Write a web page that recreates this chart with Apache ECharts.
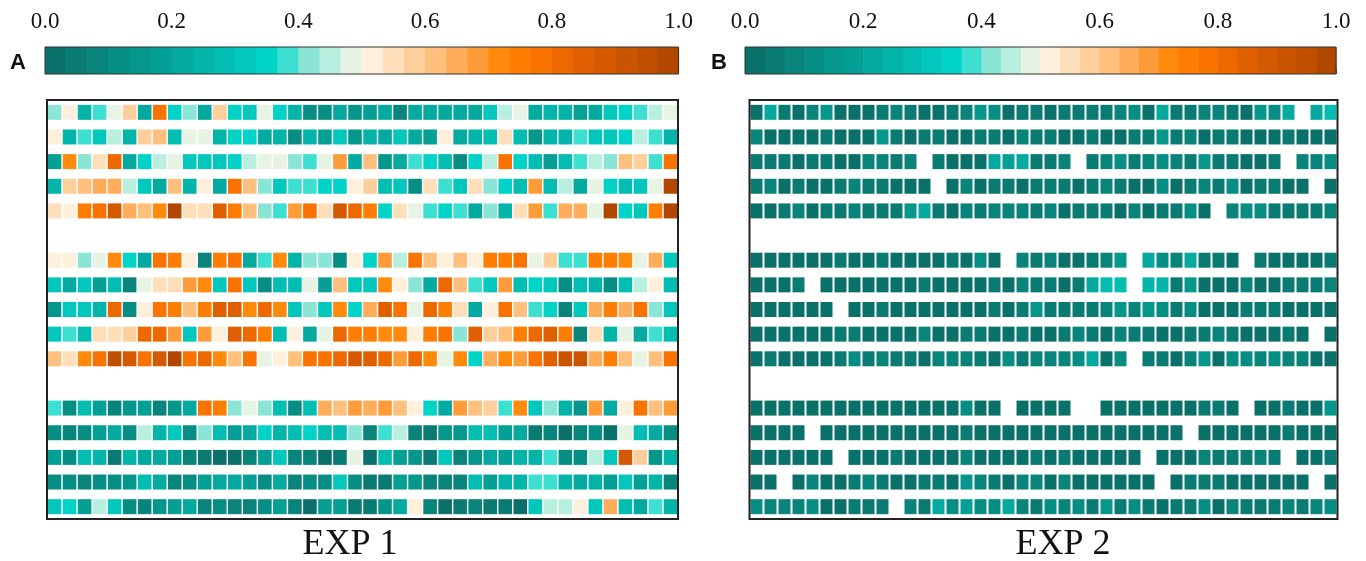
<!DOCTYPE html>
<html>
<head>
<meta charset="utf-8">
<script src="https://cdn.jsdelivr.net/npm/echarts@6/dist/echarts.min.js"></script>
<style>
  html, body { margin: 0; padding: 0; background: #fff; }
  #chart { width: 1366px; height: 561px; }
</style>
</head>
<body>
<div id="chart"></div>
<script>
// 30-step teal → cream → orange colour scale
const palette = [
  '#0a716a', '#097b72', '#08847b', '#078e84', '#06978c', '#05a095',
  '#04aa9f', '#03b4a9', '#02bdb2', '#01c7bc', '#00d3c7', '#3ddfd0',
  '#8ae5d6', '#b8efde', '#e7f4e3', '#fff0dc', '#ffdfb9', '#ffcf9b',
  '#ffc07e', '#ffad5b', '#ff9c3a', '#ff8a0c', '#ff7d00', '#fa7200',
  '#ee6800', '#e06000', '#d55900', '#ca5400', '#c04f00', '#b24800'
];
const colorbarTicks = [0, 0.2, 0.4, 0.6, 0.8, 1.0];
const columns = Array.from({ length: 42 }, (_, i) => String(i + 1));

// EXP 1 — three blocks of five rows, 42 columns each
const exp1Block1 = [
  [.42,.52,.25,.38,.48,.58,.22,.78,.35,.42,.22,.58,.35,.32,.48,.35,.25,.12,.12,.22,.15,.18,.22,.08,.22,.22,.22,.22,.22,.32,.45,.48,.22,.25,.25,.18,.22,.32,.35,.38,.45,.48],
  [.52,.25,.38,.32,.45,.25,.58,.62,.28,.48,.48,.25,.35,.35,.22,.25,.12,.25,.18,.32,.15,.25,.22,.32,.22,.18,.52,.22,.25,.28,.55,.28,.15,.25,.25,.38,.32,.32,.35,.45,.38,.25],
  [.18,.72,.42,.55,.82,.22,.35,.45,.48,.32,.32,.32,.35,.45,.48,.48,.42,.38,.48,.68,.22,.62,.15,.22,.38,.35,.28,.12,.35,.45,.78,.35,.28,.18,.28,.38,.45,.42,.62,.58,.38,.78],
  [.25,.58,.62,.65,.65,.45,.32,.22,.62,.25,.52,.22,.78,.62,.42,.32,.38,.38,.35,.35,.52,.58,.28,.32,.12,.55,.38,.32,.55,.42,.35,.28,.68,.28,.45,.22,.48,.35,.28,.32,.48,.98],
  [.55,.52,.75,.78,.88,.65,.62,.72,.98,.55,.55,.85,.75,.62,.42,.38,.68,.78,.55,.88,.82,.75,.35,.55,.48,.38,.35,.38,.22,.42,.25,.55,.68,.38,.65,.65,.48,.98,.35,.32,.75,.98]
];
const exp1Block2 = [
  [.52,.52,.42,.48,.72,.35,.22,.78,.75,.52,.08,.75,.78,.22,.38,.72,.25,.42,.42,.12,.52,.35,.68,.45,.78,.62,.52,.62,.52,.75,.75,.78,.48,.58,.38,.38,.75,.75,.72,.48,.65,.32],
  [.32,.22,.32,.18,.28,.08,.48,.55,.55,.68,.72,.32,.78,.32,.12,.28,.28,.48,.18,.62,.32,.32,.72,.52,.42,.22,.82,.62,.38,.32,.68,.28,.35,.32,.12,.28,.25,.12,.28,.45,.52,.28],
  [.15,.32,.32,.25,.82,.12,.52,.78,.75,.62,.75,.85,.85,.72,.82,.72,.32,.42,.32,.72,.35,.65,.85,.78,.48,.82,.75,.55,.22,.52,.78,.62,.38,.35,.08,.32,.65,.75,.65,.78,.42,.32],
  [.32,.38,.28,.55,.55,.58,.82,.82,.68,.32,.68,.52,.85,.82,.75,.28,.52,.22,.48,.82,.75,.75,.72,.72,.52,.75,.78,.42,.85,.58,.62,.75,.82,.85,.75,.08,.55,.25,.48,.22,.38,.28],
  [.62,.55,.72,.78,.95,.88,.78,.88,.98,.78,.82,.72,.62,.78,.48,.52,.62,.78,.78,.82,.88,.85,.82,.68,.82,.72,.48,.72,.35,.65,.72,.68,.78,.85,.92,.92,.65,.75,.62,.48,.62,.78]
];
const exp1Block3 = [
  [.38,.12,.28,.18,.08,.15,.18,.08,.15,.22,.78,.75,.42,.48,.42,.28,.12,.28,.65,.62,.68,.65,.68,.62,.52,.35,.22,.68,.62,.58,.38,.72,.32,.42,.25,.15,.68,.22,.52,.78,.62,.68],
  [.12,.08,.12,.18,.22,.12,.45,.25,.32,.12,.42,.28,.18,.22,.35,.25,.28,.35,.28,.28,.42,.08,.38,.45,.08,.05,.15,.15,.28,.28,.18,.22,.05,.08,.02,.08,.12,.02,.48,.28,.22,.12],
  [.18,.12,.28,.25,.05,.25,.22,.22,.18,.08,.05,.02,.02,.08,.18,.32,.08,.08,.02,.05,.48,.02,.28,.18,.15,.05,.32,.08,.15,.22,.18,.25,.25,.38,.12,.12,.45,.32,.88,.58,.15,.25],
  [.12,.12,.08,.12,.12,.15,.28,.22,.08,.12,.18,.22,.22,.18,.12,.22,.08,.12,.12,.32,.12,.05,.05,.18,.15,.08,.08,.08,.28,.18,.25,.25,.38,.38,.25,.22,.25,.18,.32,.18,.25,.08],
  [.32,.35,.18,.45,.32,.12,.08,.15,.18,.22,.08,.12,.08,.08,.12,.18,.08,.02,.18,.18,.05,.05,.15,.22,.52,.08,.02,.05,.08,.05,.05,.02,.32,.45,.45,.52,.32,.65,.28,.22,.38,.25]
];

// EXP 2 — same layout; null marks an empty cell
const exp2Block1 = [
  [.02,.22,.05,.02,.08,.15,.02,.02,.02,.05,.08,.05,.02,.02,.05,.08,.15,.12,.02,.05,.05,.02,.05,.05,.05,.05,.08,.12,.02,.22,.05,.05,.08,.08,.05,.02,.15,.12,.22,null,.22,.28],
  [.08,.02,.02,.02,.02,.05,.02,.02,.02,.15,.05,.02,.05,.05,.02,.02,.05,.05,.02,.08,.05,.05,.02,.02,.05,.02,.02,.05,.05,.15,.05,.08,.02,.05,.05,.02,.02,.02,.05,.02,.02,.02],
  [.05,.05,.05,.02,.05,.05,.02,.02,.08,.08,.05,.08,null,.05,.02,.02,.02,.22,.18,.22,.05,.05,.08,null,.05,.08,.12,.05,.08,.12,.08,.05,.15,.05,.05,.02,.02,.05,null,.08,.08,.12],
  [.05,.08,.02,.05,.02,.02,.05,.08,.05,.05,.02,.02,.02,null,.02,.08,.02,.05,.05,.02,.05,.05,.05,.02,.05,.08,.05,.02,.02,.12,.02,.05,.08,.05,.12,.02,.05,.05,.02,.02,null,.02],
  [.02,.02,.05,.08,.02,.05,.05,.08,.05,.05,.05,.15,.22,.05,.02,.08,.05,.08,.08,.08,.05,.08,.02,.05,.05,.05,.02,.08,.02,.05,.05,.12,.02,null,.08,.12,.12,.05,.05,.05,.05,.08]
];
const exp2Block2 = [
  [.02,.02,.02,.02,.02,.02,.05,.02,.02,.05,.02,.02,.02,.02,.05,.02,.12,.02,null,.08,.05,.08,.02,.02,.05,.08,.15,null,.22,.12,.08,.22,.05,.05,.02,null,.05,.02,.02,.02,.02,.05],
  [.02,.02,.02,.05,null,.02,.02,.02,.02,.02,.02,.02,.05,.02,.02,.02,.02,.05,.02,.08,.05,.05,.02,.05,.22,.28,.28,null,.25,.25,.05,.15,.02,.02,.02,.08,.02,.02,.05,.05,.05,.08],
  [.02,.02,.02,.02,.02,.02,null,.02,.02,.05,.02,.02,.02,.02,.02,.02,.02,.05,.02,.05,.15,.05,.05,.05,.05,.08,.15,.08,.15,.12,.05,.12,.02,.02,.02,.05,.05,.05,.02,.02,.02,.02],
  [.02,.02,.02,.02,.02,.02,.05,.05,.02,.02,.02,.02,.08,.02,.02,.05,.05,.02,.02,.05,.02,.02,.05,.08,.05,.02,.08,.05,.05,.02,.02,.05,.05,.08,.05,.02,.02,.02,.05,.02,null,.02],
  [.02,.05,.02,.02,.02,.02,.05,.12,.05,.08,.05,.05,.02,.08,.08,.08,.05,.02,.12,.05,.08,.08,.08,.12,.22,.02,.12,null,.05,.05,.02,.08,.15,.02,.12,.12,.08,.12,.08,.08,.02,.02]
];
const exp2Block3 = [
  [.02,.02,.02,.02,.02,.02,.02,.02,.02,.02,.02,.02,.02,.02,.02,.12,.02,.02,null,.02,.02,.02,.02,null,null,.02,.02,.02,.02,.02,.02,.02,.05,.05,.02,null,.02,.02,.05,.02,.02,.15],
  [.02,.02,.02,.02,null,.02,.02,.02,.02,.02,.02,.02,.02,.02,.02,.05,.02,.02,.02,.02,.02,.02,.02,.02,.02,.02,.02,.02,.02,.02,.02,null,.02,.02,.02,.02,.02,.02,.05,.02,.02,.02],
  [.02,.02,.02,.02,.02,.02,null,.02,.02,.02,.05,.02,.02,.02,.02,.08,.02,.02,.02,.02,.05,.02,.05,.02,.02,.02,.02,.02,null,.02,.02,.02,.08,.05,.05,.05,.08,.05,null,.02,.02,.05],
  [.02,.02,null,.02,.08,.02,.02,.05,.08,.05,.02,.02,.05,.05,.02,.15,.08,.05,.02,.08,.08,.02,.08,.02,.02,.02,.02,.02,.02,null,.02,.05,.05,.05,.02,.02,.02,.02,.02,.02,null,.02],
  [.12,.08,.08,.08,.12,.02,.02,.05,.05,.05,null,.08,.05,.22,.12,.18,.12,.12,.22,.08,.05,.12,.08,.12,.05,.15,.05,.12,.05,.02,.05,.05,.12,.02,.08,.05,.05,.05,.08,.05,.08,.12]
];

// Vertical slots: 5 rows, spacer, 5 rows, spacer, 5 rows
const rowSlots = Array.from({ length: 17 }, (_, i) => String(i));

function colorOf(v) {
  return palette[Math.min(palette.length - 1, Math.floor(v * palette.length))];
}

function cells(blocks) {
  const out = [];
  blocks.forEach((block, b) => {
    block.forEach((row, r) => {
      row.forEach((v, c) => {
        if (v !== null) out.push([c, b * 6 + r, v]);
      });
    });
  });
  return out;
}

const colorbarBins = palette.map((_, i) => [i / palette.length, (i + 1) / palette.length]);

const serif = 'Liberation Serif, DejaVu Serif, serif';

function colorbarAxis(gridIndex) {
  return {
    type: 'value', gridIndex, position: 'top', min: 0, max: 1, interval: 0.2,
    axisLine: { show: false },
    axisTick: { show: true, length: 5, lineStyle: { color: '#333', width: 1 } },
    splitLine: { show: false },
    axisLabel: {
      margin: 14, fontFamily: serif, fontSize: 23, color: '#111',
      formatter: v => v.toFixed(1)
    }
  };
}

function colorbarSeries(axisIndex) {
  return {
    type: 'custom', xAxisIndex: axisIndex, yAxisIndex: axisIndex,
    data: colorbarBins,
    renderItem: (params, api) => {
      const a = api.coord([api.value(0), 1]);
      const b = api.coord([api.value(1), 0]);
      return {
        type: 'rect',
        shape: { x: a[0], y: a[1], width: b[0] - a[0] + 0.6, height: b[1] - a[1] },
        style: { fill: palette[params.dataIndex] }
      };
    },
    silent: true
  };
}

function cellSeries(axisIndex, blocks, size) {
  return {
    type: 'scatter', xAxisIndex: axisIndex, yAxisIndex: axisIndex,
    symbol: 'rect', symbolSize: size,
    data: cells(blocks),
    itemStyle: { color: p => colorOf(p.value[2]), opacity: 1 },
    silent: true
  };
}

const heatX = gridIndex => ({
  type: 'category', gridIndex, data: columns,
  axisLine: { show: false }, axisTick: { show: false }, axisLabel: { show: false }, splitLine: { show: false }
});
const heatY = gridIndex => ({
  type: 'category', gridIndex, data: rowSlots, inverse: true,
  axisLine: { show: false }, axisTick: { show: false }, axisLabel: { show: false }, splitLine: { show: false }
});

const chart = echarts.init(document.getElementById('chart'), null, { renderer: 'canvas' });
chart.setOption({
  backgroundColor: '#fff',
  animation: false,
  grid: [
    { left: 45, top: 47, width: 633.5, height: 27, show: true, z: 10, backgroundColor: 'transparent', borderColor: '#333', borderWidth: 1 },
    { left: 745, top: 47, width: 591, height: 27, show: true, z: 10, backgroundColor: 'transparent', borderColor: '#333', borderWidth: 1 },
    { left: 47, top: 100, width: 631, height: 419, show: true, z: 10, backgroundColor: 'transparent', borderColor: '#222', borderWidth: 2 },
    { left: 749.5, top: 100, width: 588, height: 419, show: true, z: 10, backgroundColor: 'transparent', borderColor: '#222', borderWidth: 2 }
  ],
  xAxis: [colorbarAxis(0), colorbarAxis(1), heatX(2), heatX(3)],
  yAxis: [
    { type: 'value', gridIndex: 0, min: 0, max: 1, show: false },
    { type: 'value', gridIndex: 1, min: 0, max: 1, show: false },
    heatY(2), heatY(3)
  ],
  series: [
    colorbarSeries(0),
    colorbarSeries(1),
    cellSeries(2, [exp1Block1, exp1Block2, exp1Block3], [13.6, 15]),
    cellSeries(3, [exp2Block1, exp2Block2, exp2Block3], [12, 15])
  ],
  graphic: [
    { type: 'text', left: 10, top: 52, style: { text: 'A', fontFamily: 'Liberation Sans, Arial, sans-serif', fontWeight: 'bold', fontSize: 22, fill: '#111' } },
    { type: 'text', left: 711, top: 52, style: { text: 'B', fontFamily: 'Liberation Sans, Arial, sans-serif', fontWeight: 'bold', fontSize: 22, fill: '#111' } },
    { type: 'text', x: 350, y: 545, style: { text: 'EXP 1', fontFamily: serif, fontSize: 36, fill: '#111', align: 'center', verticalAlign: 'middle' } },
    { type: 'text', x: 1063, y: 545, style: { text: 'EXP 2', fontFamily: serif, fontSize: 36, fill: '#111', align: 'center', verticalAlign: 'middle' } }
  ]
});
</script>
</body>
</html>
